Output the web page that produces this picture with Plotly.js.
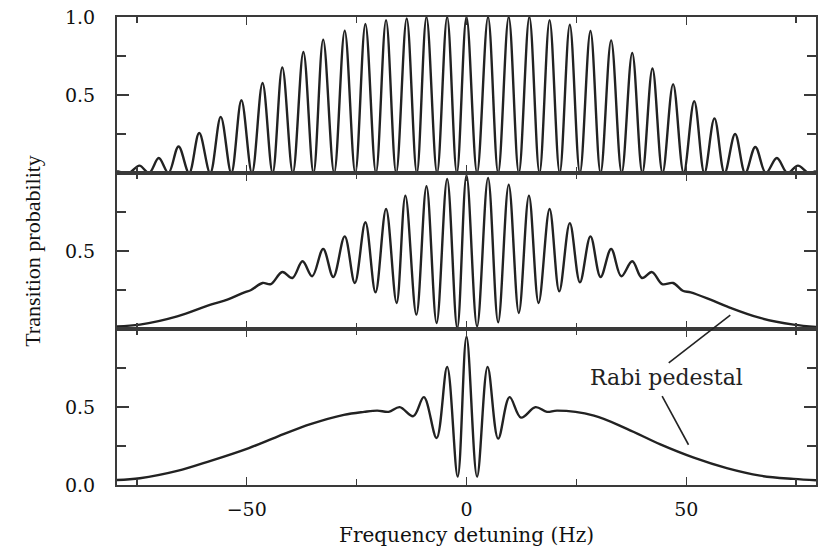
<!DOCTYPE html>
<html>
<head>
<meta charset="utf-8">
<script src="https://cdn.plot.ly/plotly-3.0.1.min.js"></script>
<style>html,body{margin:0;padding:0;background:#fff;}#chart{width:823px;height:547px;}</style>
</head>
<body>
<div id="chart"></div>
<script>
// Top panel: Ramsey fringes (peaks and zeros)
var topX = [-79.5, -76.8, -74.4, -72.2, -70.0, -67.8, -65.5, -63.1, -60.8, -58.3, -55.9, -53.5, -51.2, -48.8, -46.4, -44.1, -41.9, -39.5, -37.1, -34.8, -32.6, -30.1, -27.7, -25.3, -23.0, -20.6, -18.3, -16.0, -13.6, -11.3, -9.1, -6.7, -4.4, -2.2, 0, 2.4, 4.9, 7.2, 9.6, 11.9, 14.3, 16.6, 18.9, 21.2, 23.5, 25.8, 28.2, 30.5, 32.9, 35.3, 37.7, 40.0, 42.3, 44.6, 47.0, 49.4, 51.8, 54.1, 56.4, 58.7, 61.1, 63.4, 65.7, 68.1, 70.6, 73.0, 75.4, 77.8, 79.5];
var topY = [0.012, 0, 0.047, 0, 0.096, 0, 0.17, 0, 0.256, 0, 0.36, 0, 0.466, 0, 0.577, 0, 0.677, 0, 0.776, 0, 0.855, 0, 0.912, 0, 0.955, 0, 0.98, 0, 0.99, 0, 1.0, 0, 1.0, 0, 1.0, 0, 1.0, 0, 1.0, 0, 1.0, 0, 0.98, 0, 0.95, 0, 0.91, 0, 0.85, 0, 0.77, 0, 0.67, 0, 0.57, 0, 0.46, 0, 0.35, 0, 0.25, 0, 0.167, 0, 0.096, 0, 0.047, 0, 0.012];

// Middle panel
var midX = [-79.5, -74.3, -65.8, -58.2, -54.4, -50.5, -49.0, -46.4, -44.5, -41.9, -39.6, -37.3, -35.1, -32.6, -30.3, -27.7, -25.4, -23.0, -20.7, -18.3, -15.9, -13.9, -11.4, -9.1, -6.8, -4.4, -2.1, 0, 2.4, 4.9, 7.2, 9.6, 11.9, 14.2, 16.4, 18.9, 21.1, 23.5, 25.8, 28.2, 30.5, 32.9, 35.2, 37.7, 39.9, 42.2, 44.5, 47.0, 49.2, 51.0, 55.5, 59.2, 66.8, 74.4, 79.5];
var midY = [0.017, 0.028, 0.081, 0.156, 0.188, 0.235, 0.25, 0.295, 0.288, 0.365, 0.327, 0.434, 0.338, 0.513, 0.333, 0.594, 0.295, 0.684, 0.235, 0.769, 0.167, 0.855, 0.092, 0.915, 0.038, 0.962, 0.006, 0.985, 0.017, 0.968, 0.043, 0.925, 0.103, 0.855, 0.167, 0.769, 0.241, 0.679, 0.299, 0.594, 0.333, 0.513, 0.338, 0.434, 0.327, 0.365, 0.288, 0.295, 0.245, 0.235, 0.188, 0.145, 0.071, 0.028, 0.013];

// Bottom panel
var botX = [-79.5, -74.3, -65.8, -58.2, -49.5, -43.0, -35.5, -27.9, -23.3, -20.3, -17.7, -15.2, -12.1, -9.7, -6.8, -4.4, -2.0, 0, 2.4, 4.8, 7.2, 9.8, 12.4, 15.7, 18.3, 20.6, 29.0, 36.5, 44.1, 51.7, 59.2, 66.8, 74.4, 79.5];
var botY = [0.032, 0.043, 0.09, 0.155, 0.237, 0.31, 0.39, 0.45, 0.469, 0.477, 0.469, 0.499, 0.441, 0.563, 0.301, 0.757, 0.054, 0.95, 0.054, 0.757, 0.297, 0.563, 0.432, 0.499, 0.469, 0.477, 0.445, 0.36, 0.26, 0.175, 0.108, 0.06, 0.039, 0.03];

// Ticks and labels
var xTickVals = [-50, 0, 50];
var xTickText = ['\u221250', '0', '50'];
var xMinorVals = [-75, -25, 25, 75];
var yTickVals = [0, 0.5, 1.0];
var yTopText = ['', '0.5', '1.0'];
var yMidText = ['', '0.5', ''];
var yBotText = ['0.0', '0.5', ''];
var yMinorVals = [0.25, 0.75];

var xTitle = 'Frequency detuning (Hz)';
var yTitle = 'Transition probability';
var noteText = 'Rabi pedestal';

var lineCol = '#222222';
var axCol = '#3a3a3a';
var serif = 'DejaVu Serif, Liberation Serif, serif';

function trace(x, y, xa, ya) {
  return {x: x, y: y, xaxis: xa, yaxis: ya, type: 'scatter', mode: 'lines',
    line: {color: lineCol, width: 2.4, shape: 'spline', smoothing: 1}, hoverinfo: 'skip', showlegend: false};
}

function xAxis(anchor, labels) {
  return {anchor: anchor, range: [-79.5, 79.5], showgrid: false, zeroline: false,
    showline: true, linecolor: axCol, linewidth: 2, mirror: 'allticks',
    ticks: 'inside', ticklen: 8, tickwidth: 1.5, tickcolor: axCol,
    tickvals: xTickVals, ticktext: labels ? xTickText : ['', '', ''],
    showticklabels: !!labels, ticklabelstandoff: 6,
    tickfont: {family: serif, size: 19, color: '#111'},
    minor: {tickvals: xMinorVals, ticks: 'inside', ticklen: 6, tickwidth: 1.5, tickcolor: axCol},
    fixedrange: true};
}
function yAxis(anchor, domain, text) {
  return {anchor: anchor, domain: domain, range: [0, 1], showgrid: false, zeroline: false,
    showline: true, linecolor: axCol, linewidth: 2, mirror: 'allticks',
    ticks: 'inside', ticklen: 12, tickwidth: 1.5, tickcolor: axCol,
    tickvals: yTickVals, ticktext: text, ticklabelstandoff: 16,
    tickfont: {family: serif, size: 19, color: '#111'},
    minor: {tickvals: yMinorVals, ticks: 'inside', ticklen: 9, tickwidth: 1.5, tickcolor: axCol},
    fixedrange: true};
}

var layout = {
  width: 823, height: 547,
  margin: {l: 117, r: 7, t: 17, b: 62},
  paper_bgcolor: '#fff', plot_bgcolor: '#fff',
  showlegend: false,
  xaxis: xAxis('y', false),
  xaxis2: xAxis('y2', false),
  xaxis3: xAxis('y3', true),
  yaxis: yAxis('x', [2/3, 1], yTopText),
  yaxis2: yAxis('x2', [1/3, 2/3], yMidText),
  yaxis3: yAxis('x3', [0, 1/3], yBotText),
  annotations: [{
    xref: 'x3', yref: 'y3', x: 45.5, y: 0.69, text: noteText, showarrow: false,
    font: {family: serif, size: 22, color: '#222'}, xanchor: 'center', yanchor: 'middle'
  }],
  shapes: [
    {type: 'line', xref: 'x3', yref: 'paper', x0: 46.0, y0: 0.261, x1: 60.0, y1: 0.363, line: {color: '#222', width: 1.6}},
    {type: 'line', xref: 'x3', yref: 'paper', x0: 44.5, y0: 0.190, x1: 50.5, y1: 0.086, line: {color: '#222', width: 1.6}}
  ]
};
layout.xaxis3.title = {text: xTitle, font: {family: serif, size: 20, color: '#111'}, standoff: 10};
layout.yaxis2.title = {text: yTitle, font: {family: 'Liberation Serif, serif', size: 22, color: '#111'}, standoff: 18};

var data = [trace(topX, topY, 'x', 'y'), trace(midX, midY, 'x2', 'y2'), trace(botX, botY, 'x3', 'y3')];
Plotly.newPlot('chart', data, layout, {displayModeBar: false, staticPlot: true});
</script>
</body>
</html>
